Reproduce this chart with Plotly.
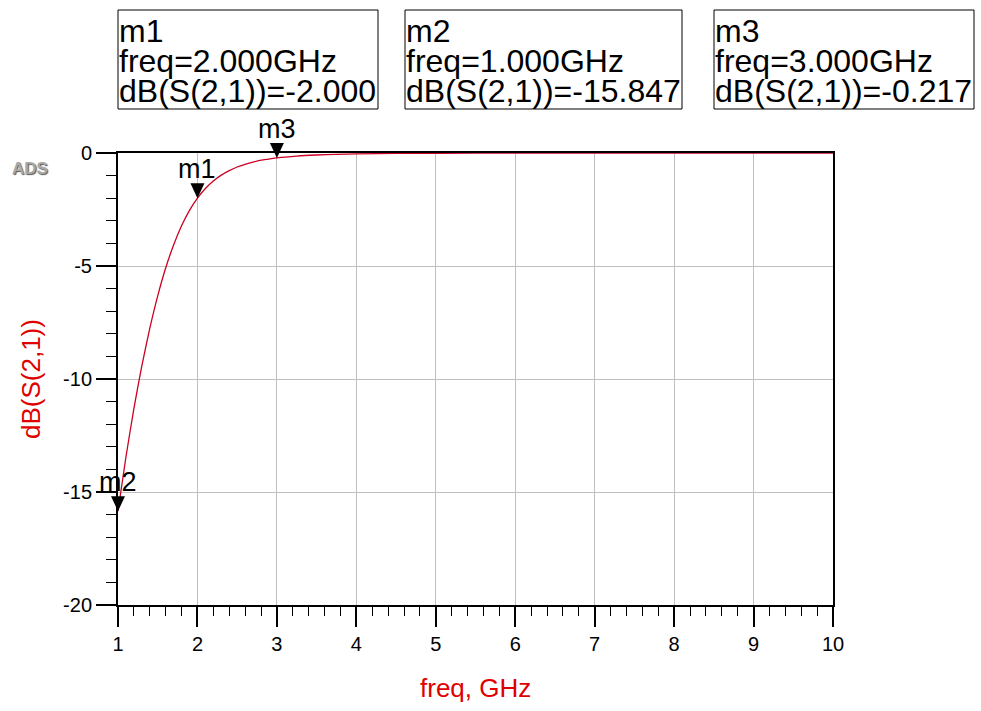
import plotly.graph_objects as go

# ---- data ----
freq_ghz = [1.0, 1.1, 1.2, 1.3, 1.4, 1.5, 1.6, 1.7, 1.8, 1.9, 2.0, 2.1, 2.2, 2.3, 2.4, 2.5,
            2.6, 2.7, 2.8, 2.9, 3.0, 3.25, 3.5, 3.75, 4.0, 4.5, 5.0, 6.0, 7.0, 8.0, 9.0, 10.0]
s21_db = [-15.847, -13.45, -11.31, -9.42, -7.76, -6.32, -5.09, -4.07, -3.22, -2.54, -2.000,
          -1.57, -1.24, -0.98, -0.78, -0.62, -0.50, -0.40, -0.32, -0.27, -0.217, -0.136,
          -0.088, -0.058, -0.040, -0.020, -0.010, -0.0035, -0.0014, -0.0006, -0.0003, -0.0002]

marker_names = ["m1", "m2", "m3"]
marker_freq = [2.000, 1.000, 3.000]
marker_db = [-2.000, -15.847, -0.217]

x_range = [1, 10]
y_range = [-20, 0]
x_ticks = [1, 2, 3, 4, 5, 6, 7, 8, 9, 10]
y_ticks = [-20, -15, -10, -5, 0]

# ---- layout geometry (pixels) ----
FIG_W, FIG_H = 981, 711
L, T, R, B = 118, 153, 833, 605
W, H = R - L, B - T


def px(x):
    return (x - L) / W


def py(y):
    return (B - y) / H


FONT = "Arial, 'Liberation Sans', sans-serif"
RED_TXT = "#e00000"
CURVE = "#cc0022"

fig = go.Figure()
fig.add_trace(go.Scatter(
    x=freq_ghz, y=s21_db, mode="lines",
    line=dict(color=CURVE, width=1.3, shape="spline", smoothing=0.6),
    hoverinfo="skip", showlegend=False, cliponaxis=False,
))

shapes = []
annotations = []

# marker triangles + labels
for name, f, v in zip(marker_names, marker_freq, marker_db):
    xa = (f - x_range[0]) / (x_range[1] - x_range[0])
    ya = (v - y_range[0]) / (y_range[1] - y_range[0])
    shapes.append(dict(
        type="path", xref="x domain", yref="y domain",
        xsizemode="pixel", ysizemode="pixel", xanchor=xa, yanchor=ya,
        path="M-7,15 L7,15 L0,0 Z", fillcolor="black", line=dict(color="black", width=0),
        layer="above",
    ))
    annotations.append(dict(
        x=f, y=v, xref="x", yref="y", text=name, showarrow=False,
        xanchor="center", yanchor="bottom", yshift=12,
        font=dict(family=FONT, size=27, color="black"),
    ))

# marker readout boxes
box_px = [(118, 378), (405, 682), (714, 974)]
box_top, box_bot = 10, 109
line_centers = [31, 61, 91]
for (x0, x1), name, f, v in zip(box_px, marker_names, marker_freq, marker_db):
    shapes.append(dict(
        type="rect", xref="paper", yref="paper",
        x0=px(x0), x1=px(x1), y0=py(box_bot), y1=py(box_top),
        line=dict(color="black", width=1), fillcolor="rgba(0,0,0,0)", layer="above",
    ))
    lines = [name, "freq=%.3fGHz" % f, "dB(S(2,1))=%.3f" % v]
    for txt, yc in zip(lines, line_centers):
        annotations.append(dict(
            x=px(x0 - 1), y=py(yc), xref="paper", yref="paper", text=txt,
            showarrow=False, xanchor="left", yanchor="middle",
            font=dict(family=FONT, size=32, color="black"),
        ))

# axis titles
annotations.append(dict(
    x=0.5, y=py(688), xref="paper", yref="paper", text="freq, GHz", showarrow=False,
    xanchor="center", yanchor="middle", font=dict(family=FONT, size=26, color=RED_TXT),
))
annotations.append(dict(
    x=px(31), y=0.5, xref="paper", yref="paper", text="dB(S(2,1))", showarrow=False,
    textangle=-90, xanchor="center", yanchor="middle",
    font=dict(family=FONT, size=26, color=RED_TXT),
))
# ADS logo
annotations.append(dict(
    x=px(30), y=py(168), xref="paper", yref="paper", text="<b>ADS</b>", showarrow=False,
    xanchor="center", yanchor="middle",
    font=dict(family=FONT, size=17, color="#a8a8a8", shadow="1px 1px 1px #555555"),
))

axis_common = dict(
    showline=True, linecolor="black", linewidth=2, mirror=True,
    showgrid=True, gridcolor="#c0c0c0", gridwidth=1,
    ticks="outside", ticklen=20, tickwidth=2, tickcolor="black",
    zeroline=False, layer="below traces",
    tickfont=dict(family=FONT, size=20, color="black"),
)

fig.update_layout(
    width=FIG_W, height=FIG_H,
    margin=dict(l=L, r=FIG_W - R, t=T, b=FIG_H - B, pad=0),
    paper_bgcolor="white", plot_bgcolor="white",
    showlegend=False,
    xaxis=dict(range=x_range, tickvals=x_ticks, ticktext=[str(t) for t in x_ticks],
               minor=dict(dtick=0.2, ticks="outside", ticklen=9, tickwidth=1,
                          tickcolor="black", showgrid=False),
               **axis_common),
    yaxis=dict(range=y_range, tickvals=y_ticks, ticktext=[str(t) for t in y_ticks],
               minor=dict(dtick=1, ticks="outside", ticklen=10, tickwidth=1,
                          tickcolor="black", showgrid=False),
               **axis_common),
    shapes=shapes,
    annotations=annotations,
)

fig.write_html("out.html", config={"displayModeBar": False})
